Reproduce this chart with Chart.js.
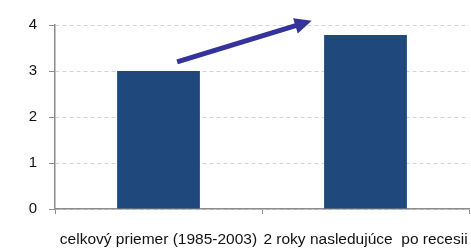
<!DOCTYPE html>
<html>
<head>
<meta charset="utf-8">
<script src="https://cdn.jsdelivr.net/npm/chart.js@4/dist/chart.umd.min.js"></script>
<style>
  html, body { margin: 0; padding: 0; background: #fff; }
  #wrap { width: 471px; height: 248px; }
</style>
</head>
<body>
<div id="wrap"><canvas id="chart"></canvas></div>
<script>
// Données du graphique
const categories = ['celkový priemer (1985-2003)', '2 roky nasledujúce  po recesii'];
const values = [3.0, 3.78];
const yTicks = [0, 1, 2, 3, 4];

// Flèche (en coordonnées des axes : index de catégorie, valeur)
const arrowX = [0.09, 0.74];
const arrowY = [3.2, 4.09];

const barColor = '#1f497d';
const arrowColor = '#33339b';
const axisColor = '#8c8c8c';

// Dessiner la flèche
const arrowPlugin = {
  id: 'arrow',
  afterDatasetsDraw(chart) {
    const { ctx, scales: { x, y } } = chart;
    const x0 = x.getPixelForValue(arrowX[0]);
    const y0 = y.getPixelForValue(arrowY[0]);
    const x1 = x.getPixelForValue(arrowX[1]);
    const y1 = y.getPixelForValue(arrowY[1]);
    const ang = Math.atan2(y1 - y0, x1 - x0);
    const headLen = 17, headW = 8;
    const bx = x1 - headLen * Math.cos(ang);
    const by = y1 - headLen * Math.sin(ang);
    ctx.save();
    ctx.strokeStyle = arrowColor;
    ctx.fillStyle = arrowColor;
    ctx.lineWidth = 5;
    ctx.beginPath();
    ctx.moveTo(x0, y0);
    ctx.lineTo(bx + 2 * Math.cos(ang), by + 2 * Math.sin(ang));
    ctx.stroke();
    ctx.beginPath();
    ctx.moveTo(x1, y1);
    ctx.lineTo(bx + headW * Math.sin(ang), by - headW * Math.cos(ang));
    ctx.lineTo(bx - headW * Math.sin(ang), by + headW * Math.cos(ang));
    ctx.closePath();
    ctx.fill();
    ctx.restore();
  }
};

new Chart(document.getElementById('chart'), {
  type: 'bar',
  data: {
    labels: categories,
    datasets: [{
      data: values,
      backgroundColor: barColor,
      borderWidth: 0,
      categoryPercentage: 1,
      barPercentage: 0.4
    }]
  },
  options: {
    responsive: true,
    maintainAspectRatio: false,
    animation: false,
    layout: { padding: { top: 25, right: 2, left: 0, bottom: 0 } },
    plugins: { legend: { display: false }, tooltip: { enabled: false } },
    scales: {
      x: {
        grid: {
          offset: true,
          drawOnChartArea: false,
          tickLength: 5,
          tickColor: axisColor,
          color: axisColor
        },
        border: { color: axisColor, width: 1.5 },
        ticks: {
          color: '#111',
          padding: 16,
          maxRotation: 0,
          autoSkip: false,
          font: { family: 'Liberation Sans, Arial, sans-serif', size: 15.5 }
        },
        afterFit(scale) {
          scale.height = 39;
          scale.paddingLeft = 0;
          scale.paddingRight = 0;
        }
      },
      y: {
        min: 0,
        max: 4,
        afterBuildTicks(scale) { scale.ticks = yTicks.map(v => ({ value: v })); },
        grid: {
          color: '#d4d4d4',
          tickColor: axisColor,
          tickLength: 6,
          borderDash: [4, 3]
        },
        border: { color: axisColor, width: 1.5, dash: [4, 3] },
        ticks: {
          color: '#111',
          padding: 12,
          font: { family: 'Liberation Sans, Arial, sans-serif', size: 15 }
        },
        afterFit(scale) { scale.width = 55; }
      }
    }
  },
  plugins: [arrowPlugin]
});
</script>
</body>
</html>
